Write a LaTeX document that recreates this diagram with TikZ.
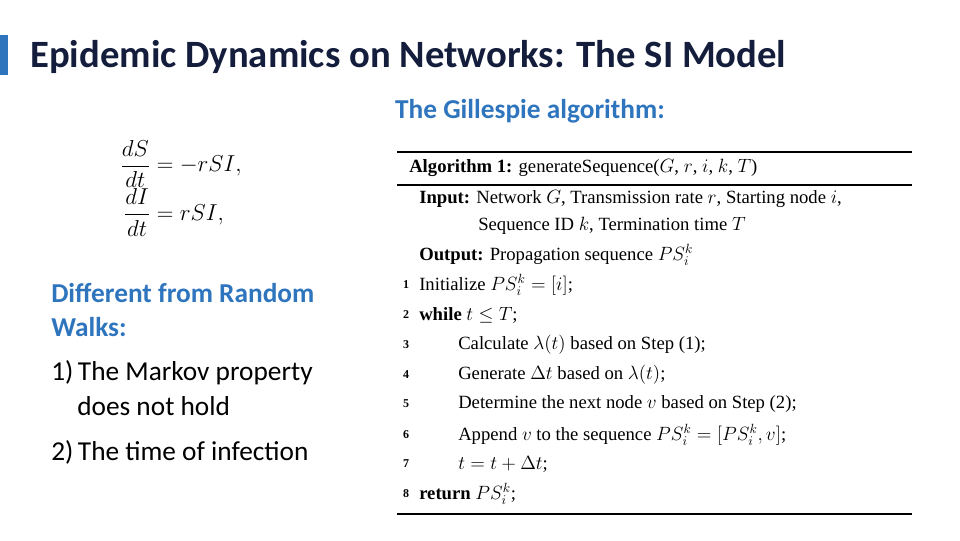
\documentclass[tikz,border=0pt]{standalone}
\usepackage{fontspec}
\setmainfont{Carlito}
\newfontfamily\alg{Liberation Serif}
\usepackage{amsmath}
\definecolor{tblue}{RGB}{46,117,190}
\definecolor{ttext}{RGB}{20,30,60}
\tikzset{lt/.style={anchor=west,inner sep=0,font=\alg\fontsize{14}{16}\selectfont},
 ln/.style={anchor=center,inner sep=0,font=\alg\fontsize{9}{10}\selectfont\bfseries},
 tx/.style={anchor=west,inner sep=0,font=\fontsize{20.5}{22}\selectfont}}
\begin{document}
\begin{tikzpicture}[x=0.75pt,y=-0.75pt]
\useasboundingbox (0,0) rectangle (960,540);
\fill[tblue] (0,35) rectangle (8,75);
\node[tx,font=\fontsize{29}{32}\selectfont\bfseries,text=ttext] (title) at (30,57) {Epidemic Dynamics on Networks: The SI Model};
\node[tx,font=\fontsize{20.5}{22}\selectfont\bfseries,text=tblue,anchor=center] (gt) at (530,111) {The Gillespie algorithm:};
\node[anchor=north west,inner sep=0,font=\fontsize{16.5}{19}\selectfont] (eq) at (120,140) {$\begin{aligned}\frac{dS}{dt}&=-rSI,\\[-3pt]\frac{dI}{dt}&=rSI,\end{aligned}$};
\node[tx,text=tblue,font=\fontsize{20.5}{22}\selectfont\bfseries] (d1) at (51,293) {Different from Random};
\node[tx,text=tblue,font=\fontsize{20.5}{22}\selectfont\bfseries] (d2) at (51,327) {Walks:};
\node[tx] (i1) at (51,373) {1)\,The Markov property};
\node[tx] (i1b) at (77,406) {does not hold};
\node[tx] (i2) at (51,452) {2)\,The time of infection};
% algorithm
\draw[line width=1.5pt] (397,152) -- (912,152);
\draw[line width=1pt] (397,185) -- (912,185);
\draw[line width=1.5pt] (397,514) -- (912,514);
\node[lt] (a0) at (409,168) {\textbf{Algorithm 1:} generateSequence($G$, $r$, $i$, $k$, $T$)};
\node[lt] (a1) at (419,199) {\textbf{Input:} Network $G$, Transmission rate $r$, Starting node $i$,};
\node[lt] (a2) at (478,226) {Sequence ID $k$, Termination time $T$};
\node[lt] (a3) at (419,255) {\textbf{Output:} Propagation sequence $PS_i^k$};
\foreach \n/\y in {1/285,2/315,3/345,4/375,5/404,6/435,7/464,8/494} \node[ln] (n\n) at (406,\y) {\n};
\node[lt] (l1) at (419,285) {Initialize $PS_i^k=[i]$;};
\node[lt] (l2) at (419,315) {\textbf{while} $t\le T$;};
\node[lt] (l3) at (458,345) {Calculate $\lambda(t)$ based on Step (1);};
\node[lt] (l4) at (458,375) {Generate $\Delta t$ based on $\lambda(t)$;};
\node[lt] (l5) at (458,404) {Determine the next node $v$ based on Step (2);};
\node[lt] (l6) at (458,435) {Append $v$ to the sequence $PS_i^k=[PS_i^k,v]$;};
\node[lt] (l7) at (458,464) {$t=t+\Delta t$;};
\node[lt] (l8) at (419,494) {\textbf{return} $PS_i^k$;};
\end{tikzpicture}
\end{document}
